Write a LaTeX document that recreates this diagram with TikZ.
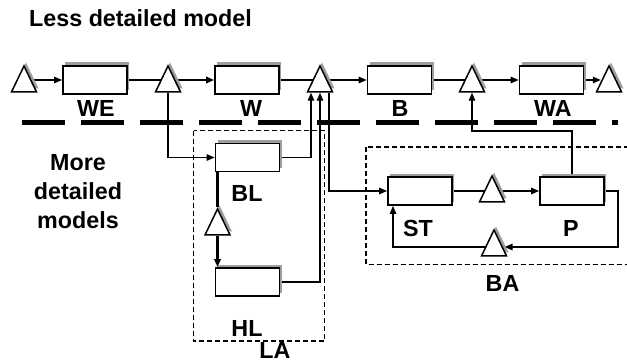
\documentclass[tikz,border=0pt]{standalone}
\usepackage{fontspec}
\setmainfont{Liberation Sans}
\usetikzlibrary{shapes.geometric,arrows.meta,shadows,calc,backgrounds}

\begin{document}
\begin{tikzpicture}[x=1pt,y=-1pt,
  lbl/.style={font=\fontsize{23.3}{29}\selectfont\bfseries, inner sep=0pt, anchor=base},
  sh/.style={drop shadow={shadow xshift=2pt, shadow yshift=3.5pt, fill=black!38, opacity=1}},
  blk/.style={draw, line width=1.8pt, fill=white, minimum width=64pt, minimum height=28pt, inner sep=0pt, sh},
  tri/.style={isosceles triangle, shape border rotate=90, isosceles triangle stretches,
              minimum width=25pt, minimum height=26pt, inner sep=0pt,
              draw, line width=1.5pt, fill=white, sh},
  wire/.style={line width=1.3pt},
  fat/.style={line width=2.2pt},
  arr/.style={wire, -{Triangle[length=8pt,width=6.5pt]}},
  grp/.style={line width=1.6pt, dash pattern=on 5pt off 3pt},
  sep/.style={line width=5pt, dash pattern=on 43pt off 16pt}
]
\useasboundingbox (0,0) rectangle (627,361);

% model blocks
\node[blk] (WE) at (95,80) {};
\node[blk] (W)  at (247,80) {};
\node[blk] (B)  at (399.5,80) {};
\node[blk] (WA) at (551.5,80) {};
\node[blk] (BL) at (247.5,157.5) {};
\node[blk] (HL) at (247.5,282) {};
\node[blk] (ST) at (420,191) {};
\node[blk] (P)  at (572,191) {};

% buffers
\node[tri, anchor=apex] (T0) at (24,64) {};
\node[tri, anchor=apex] (T1) at (168,64) {};
\node[tri, anchor=apex] (T2) at (320,64) {};
\node[tri, anchor=apex] (T3) at (472,64) {};
\node[tri, anchor=apex] (T4) at (609,64) {};
\node[tri, anchor=apex] (TL) at (217.5,207) {};
\node[tri, anchor=apex] (TS) at (492,174) {};
\node[tri, anchor=apex] (TR) at (494,228) {};

% labels
\node[lbl, anchor=base west] (title) at (29,26.7) {Less detailed model};
\node[lbl, anchor=center, align=center] (more) at (78,192) {More\\detailed\\models};
\node[lbl] (lWE) at (96,116.7) {WE};
\node[lbl] (lW)  at (251,116.7) {W};
\node[lbl] (lB)  at (400,116.7) {B};
\node[lbl] (lWA) at (553,116.7) {WA};
\node[lbl] (lBL) at (247,201.7) {BL};
\node[lbl] (lHL) at (247,336.7) {HL};
\node[lbl] (lLA) at (275,358.6) {LA};
\node[lbl] (lST) at (418,236) {ST};
\node[lbl] (lP)  at (571,236) {P};
\node[lbl] (lBA) at (502.5,291.7) {BA};

\begin{pgfonlayer}{background}
  % level separator and group frames
  \draw[sep] (22,122) -- (618,122);
  \draw[grp] (193.5,130.5) rectangle (324.5,341);
  \draw[grp] (366,147) rectangle (640,264.5);

  % upper chain
  \draw[arr] (T0.apex |- WE.west) -- (WE.west);
  \draw[fat] (WE.east) -- (WE.east -| T1.apex);
  \draw[arr,fat] (T1.apex |- W.west) -- (W.west);
  \draw[wire] (W.east) -- (W.east -| T2.apex);
  \draw[arr] (T2.apex |- B.west) -- (B.west);
  \draw[wire] (B.east) -- (B.east -| T3.apex);
  \draw[arr] (T3.apex |- WA.west) -- (WA.west);
  \coordinate (T4l) at ($(T4.apex)!0.6!(T4.left corner)$);
  \draw[arr] (WA.east) -- (WA.east -| T4l);

  % links into the detailed levels
  \draw[arr] (T1.lower side) |- (BL.west);
  \draw[arr] (BL.east) -| ([xshift=-9pt]T2.lower side);
  \draw[arr] (HL.east) -| (T2.lower side);
  \draw[arr] ([xshift=9pt]T2.lower side) |- (ST.west);

  % LA internals
  \draw[fat] (TL.apex |- BL.south) -- (TL.apex);
  \draw[arr,fat] (TL.lower side) -- (TL.lower side |- HL.north);

  % BA internals
  \draw[wire] (ST.east) -- (ST.east -| TS.apex);
  \draw[arr] (TS.apex |- P.west) -- (P.west);
  \coordinate (ret) at (618,247);
  \coordinate (TRr) at ($(TR.apex)!0.77!(TR.right corner)$);
  \draw[arr] (P.east) -| (ret) -- (ret -| TRr);
  \draw[arr] (ret -| TR.apex) -| ([xshift=-27pt]ST.south);
  \draw[arr] (P.north) -- ++(0,-45) -| (T3.lower side);
\end{pgfonlayer}
\end{tikzpicture}
\end{document}
